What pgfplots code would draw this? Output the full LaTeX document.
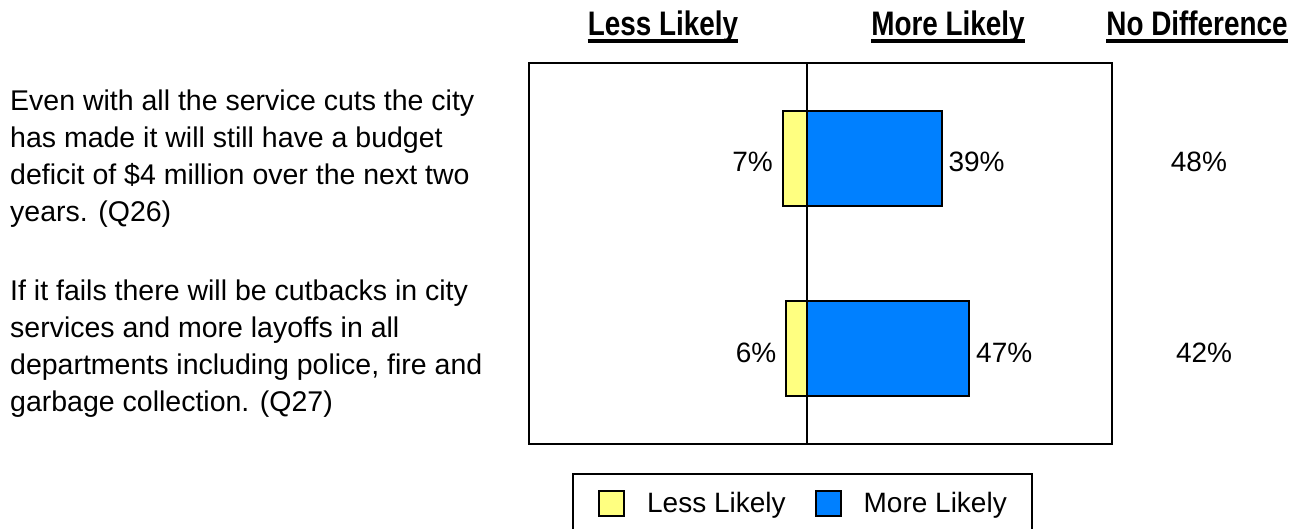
\documentclass[border=0pt]{standalone}
\usepackage{fontspec}
\setmainfont{Liberation Sans}
\newfontfamily\headfont[FakeStretch=0.82]{Liberation Sans}
\usepackage{pgfplots}
\pgfplotsset{compat=1.18}
\definecolor{lessy}{HTML}{FFFF80}
\definecolor{moreb}{HTML}{0080FF}
\newcommand{\numfont}{\fontsize{28}{34}\selectfont}
\begin{document}
\begin{tikzpicture}[x=1pt,y=1pt]
\useasboundingbox (0,0) rectangle (1299,529);
\begin{axis}[
  at={(529pt,85pt)}, anchor=south west,
  scale only axis, width=583pt, height=381pt,
  xmin=-80.6, xmax=88.4, ymin=-0.5, ymax=1.5, y dir=reverse,
  xtick=\empty, ytick={0,1},
  yticklabels={{Even with all the service cuts the city\\has made it will still have a budget\\deficit of \$4 million over the next two\\years. (Q26)},
               {If it fails there will be cutbacks in city\\services and more layoffs in all\\departments including police, fire and\\garbage collection. (Q27)}},
  y tick label style={align=left, font=\fontsize{28.5}{37}\selectfont, anchor=west, inner sep=0pt, xshift=-519pt},
  major tick length=0pt,
  axis line style={line width=1.5pt},
  clip=false,
  xbar, bar width=0.5, bar shift=0pt,
  point meta=explicit symbolic,
  nodes near coords,
  legend image code/.code={\draw[#1] (0pt,-12.5pt) rectangle (25pt,12.5pt);},
  legend columns=2,
  legend style={at={(0.4708,0)}, anchor=north, yshift=-29pt, xshift=-1pt, draw=black, line width=1.5pt,
    font=\fontsize{28}{34}\selectfont,
    nodes={inner sep=0pt},
    inner xsep=25pt, inner ysep=16pt,
    /tikz/every odd column/.append style={column sep=22pt},
    /tikz/every even column/.append style={column sep=29pt}},
]
\addplot[fill=lessy, draw=black, line width=2pt,
  every node near coord/.style={font=\numfont, anchor=east, yshift=-4pt, inner sep=9pt}]
  coordinates {(-7,0) [7\%] (-6,1) [6\%]};
\addlegendentry{Less Likely}
\addplot[fill=moreb, draw=black, line width=2pt,
  every node near coord/.style={font=\numfont, anchor=west, yshift=-4pt, inner sep=6pt}]
  coordinates {(39,0) [39\%] (47,1) [47\%]};
\addlegendentry{More Likely}
\draw[line width=1.5pt] (axis cs:0,-0.5) -- (axis cs:0,1.5);
\node[font=\numfont, yshift=-4pt] at (axis cs:113.6,0) {48\%};
\node[font=\numfont, yshift=-4pt] at (axis cs:115.1,1) {42\%};
\end{axis}
\begin{scope}[every node/.style={anchor=base, inner sep=0pt, font=\headfont\bfseries\fontsize{34}{40}\selectfont}]
\node (h1) at (663,493) {Less Likely};
\node (h2) at (948,493) {More Likely};
\node (h3) at (1197,493) {No Difference};
\foreach \h in {h1,h2,h3}{
  \draw[line width=3.5pt] ([yshift=-5pt]\h.base west) -- ([yshift=-5pt]\h.base east);
}
\end{scope}
\end{tikzpicture}
\end{document}
